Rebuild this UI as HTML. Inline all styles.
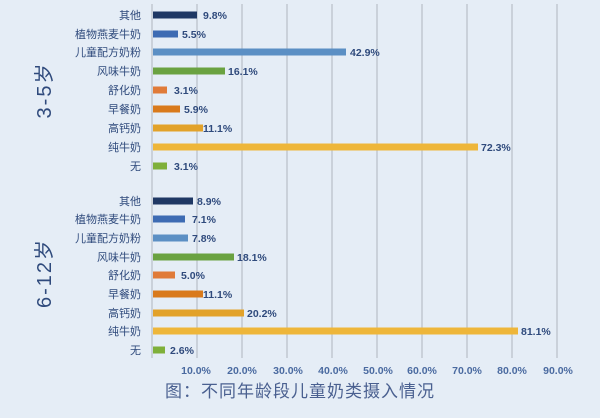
<!DOCTYPE html><html><head><meta charset="utf-8"><style>body{margin:0;width:600px;height:413px;background:#e5edf6;overflow:hidden}</style></head><body>
<svg width="600" height="413" xmlns="http://www.w3.org/2000/svg" font-family="Liberation Sans, Noto Sans CJK SC, sans-serif">
<rect width="600" height="413" fill="#e5edf6"/>
<g stroke="#b8bfc8" stroke-width="1.2">
<line x1="152" y1="4" x2="152" y2="358"/>
<line x1="197" y1="4" x2="197" y2="358"/><line x1="242" y1="4" x2="242" y2="358"/><line x1="287" y1="4" x2="287" y2="358"/><line x1="332" y1="4" x2="332" y2="358"/><line x1="377" y1="4" x2="377" y2="358"/><line x1="422" y1="4" x2="422" y2="358"/><line x1="467" y1="4" x2="467" y2="358"/><line x1="512" y1="4" x2="512" y2="358"/><line x1="557" y1="4" x2="557" y2="358"/>
</g>
<g font-size="11" fill="#2f4a7c" text-anchor="end">
<text x="141" y="19">其他</text><text x="141" y="38">植物燕麦牛奶</text><text x="141" y="56">儿童配方奶粉</text><text x="141" y="75">风味牛奶</text><text x="141" y="94">舒化奶</text><text x="141" y="113">早餐奶</text><text x="141" y="132">高钙奶</text><text x="141" y="151">纯牛奶</text><text x="141" y="170">无</text>
<text x="141" y="205">其他</text><text x="141" y="223">植物燕麦牛奶</text><text x="141" y="242">儿童配方奶粉</text><text x="141" y="261">风味牛奶</text><text x="141" y="279">舒化奶</text><text x="141" y="298">早餐奶</text><text x="141" y="317">高钙奶</text><text x="141" y="335">纯牛奶</text><text x="141" y="354">无</text>
</g>
<g>
<rect x="153" y="11.5" width="44" height="7" fill="#1f3864"/>
<rect x="153" y="30.5" width="25" height="7" fill="#3d6bb3"/>
<rect x="153" y="48.5" width="193" height="7" fill="#5b8fc4"/>
<rect x="153" y="67.5" width="72" height="7" fill="#6aa241"/>
<rect x="153" y="86.5" width="14" height="7" fill="#e07b39"/>
<rect x="153" y="105.5" width="27" height="7" fill="#d97a1c"/>
<rect x="153" y="124.5" width="50" height="7" fill="#e2a22a"/>
<rect x="153" y="143.5" width="325" height="7" fill="#eeb63a"/>
<rect x="153" y="162.5" width="14" height="7" fill="#7fb03a"/>
<rect x="153" y="197.5" width="40" height="7" fill="#1f3864"/>
<rect x="153" y="215.5" width="32" height="7" fill="#3d6bb3"/>
<rect x="153" y="234.5" width="35" height="7" fill="#5b8fc4"/>
<rect x="153" y="253.5" width="81" height="7" fill="#6aa241"/>
<rect x="153" y="271.5" width="22" height="7" fill="#e07b39"/>
<rect x="153" y="290.5" width="50" height="7" fill="#d97a1c"/>
<rect x="153" y="309.5" width="91" height="7" fill="#e2a22a"/>
<rect x="153" y="327.5" width="365" height="7" fill="#eeb63a"/>
<rect x="153" y="346.5" width="12" height="7" fill="#7fb03a"/>
</g>
<g font-size="10.5" font-weight="bold" fill="#2f4a7c">
<text x="203" y="19">9.8%</text><text x="182" y="38">5.5%</text><text x="350" y="56">42.9%</text><text x="228" y="75">16.1%</text><text x="174" y="94">3.1%</text><text x="184" y="113">5.9%</text><text x="203" y="132">11.1%</text><text x="481" y="151">72.3%</text><text x="174" y="170">3.1%</text>
<text x="197" y="205">8.9%</text><text x="192" y="223">7.1%</text><text x="192" y="242">7.8%</text><text x="237" y="261">18.1%</text><text x="181" y="279">5.0%</text><text x="203" y="298">11.1%</text><text x="247" y="317">20.2%</text><text x="521" y="335">81.1%</text><text x="170" y="354">2.6%</text>
</g>
<g font-size="10.5" font-weight="bold" fill="#4a6aa0" text-anchor="middle">
<text x="196" y="374">10.0%</text><text x="242" y="374">20.0%</text><text x="288" y="374">30.0%</text><text x="333" y="374">40.0%</text><text x="378" y="374">50.0%</text><text x="422" y="374">60.0%</text><text x="467" y="374">70.0%</text><text x="512" y="374">80.0%</text><text x="558" y="374">90.0%</text>
</g>
<text x="0" y="0" font-size="20" fill="#2f4a7c" text-anchor="middle" letter-spacing="2" transform="translate(51,90) rotate(-90)">3-5岁</text>
<text x="0" y="0" font-size="20" fill="#2f4a7c" text-anchor="middle" letter-spacing="2" transform="translate(51,273) rotate(-90)">6-12岁</text>
<text x="300" y="397" font-size="17" fill="#4a6090" text-anchor="middle" letter-spacing="1">图：不同年龄段儿童奶类摄入情况</text>
</svg></body></html>
